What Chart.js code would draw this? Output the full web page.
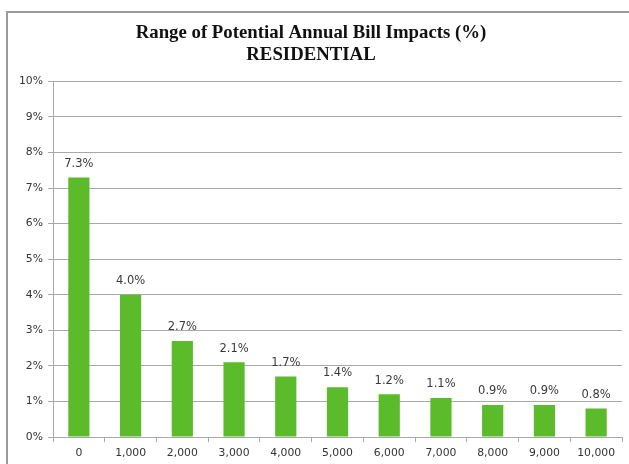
<!DOCTYPE html>
<html>
<head>
<meta charset="utf-8">
<script src="https://cdn.jsdelivr.net/npm/chart.js@4"></script>
<style>
  html, body { margin: 0; padding: 0; background: #fff; }
  #frame {
    position: absolute; left: 6px; top: 11px; width: 623px; height: 453px;
    border-left: 2px solid #9a9a9a; border-top: 2px solid #9a9a9a;
    box-sizing: border-box;
  }
  #wrap { position: absolute; left: 0; top: 0; width: 629px; height: 464px; }
</style>
</head>
<body>
<div id="frame"></div>
<div id="wrap"><canvas id="c" width="629" height="464"></canvas></div>
<script>
// Annual usage (kWh) categories and bill impact percentages
const categories = ['0', '1,000', '2,000', '3,000', '4,000', '5,000', '6,000', '7,000', '8,000', '9,000', '10,000'];
const impacts = [7.3, 4.0, 2.7, 2.1, 1.7, 1.4, 1.2, 1.1, 0.9, 0.9, 0.8];
const titleLines = ['Range of Potential Annual Bill Impacts (%)', 'RESIDENTIAL'];

const tickFont = { family: 'DejaVu Sans', size: 10.8 };
const gridColor = '#a8a8a8';

// Writes each bar's value above it
const valueLabels = {
  id: 'valueLabels',
  afterDatasetsDraw(chart) {
    const ctx = chart.ctx;
    const meta = chart.getDatasetMeta(0);
    ctx.save();
    ctx.font = '11.5px "DejaVu Sans"';
    ctx.fillStyle = '#3a3a3a';
    ctx.textAlign = 'center';
    ctx.textBaseline = 'bottom';
    meta.data.forEach((bar, i) => {
      ctx.fillText(impacts[i].toFixed(1) + '%', bar.x, bar.y - 8);
    });
    ctx.restore();
  }
};

new Chart(document.getElementById('c'), {
  type: 'bar',
  data: {
    labels: categories,
    datasets: [{
      data: impacts,
      backgroundColor: '#5cbb2a',
      borderWidth: 0,
      barPercentage: 0.82,
      categoryPercentage: 0.5
    }]
  },
  options: {
    responsive: false,
    animation: false,
    layout: { padding: { top: 0, right: 7, bottom: 0, left: 0 } },
    plugins: {
      legend: { display: false },
      tooltip: { enabled: false },
      title: {
        display: true,
        text: titleLines,
        color: '#111',
        font: { family: 'Liberation Serif', size: 18.8, weight: 'bold', lineHeight: 1.18 },
        padding: { top: 22, bottom: 15 }
      }
    },
    scales: {
      x: {
        grid: { display: true, drawOnChartArea: false, offset: true, color: gridColor, tickLength: 5 },
        border: { display: true, color: gridColor, width: 1 },
        ticks: { color: '#333', font: tickFont, padding: 5, maxRotation: 0 },
        afterFit(s) { s.height = 27; }
      },
      y: {
        min: 0,
        max: 10,
        grid: { color: gridColor, tickLength: 5 },
        border: { display: true, color: gridColor, width: 1 },
        ticks: {
          stepSize: 1,
          color: '#333',
          font: tickFont,
          padding: 5,
          callback: v => v + '%'
        },
        afterFit(s) { s.width = 53; }
      }
    }
  },
  plugins: [valueLabels]
});
</script>
</body>
</html>
